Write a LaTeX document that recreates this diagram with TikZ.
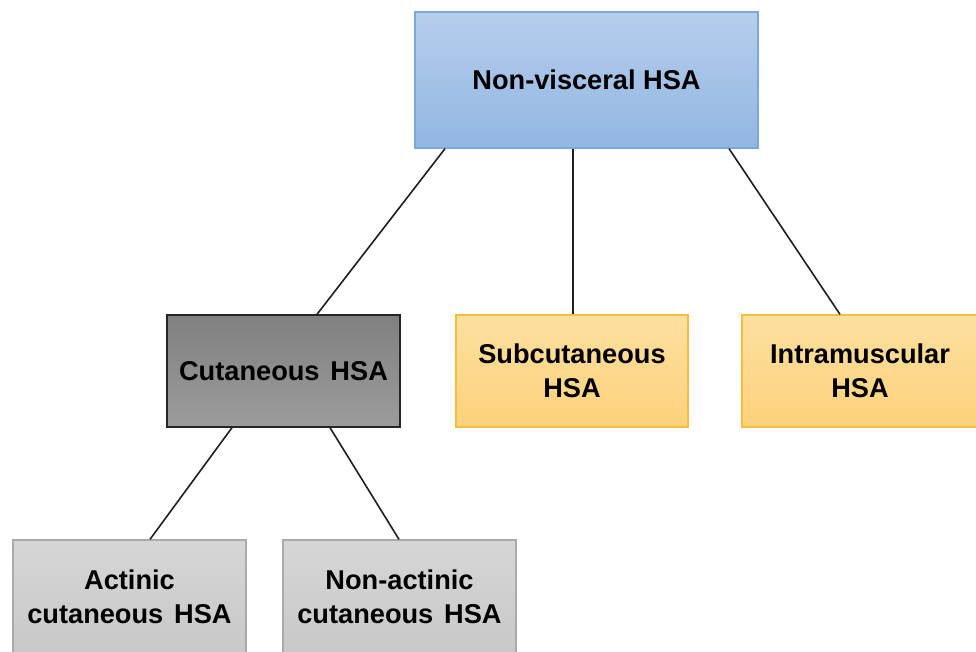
\documentclass[tikz,border=0pt]{standalone}
\usepackage{fontspec}
\setmainfont{Liberation Sans}
\begin{document}
\begin{tikzpicture}[x=1pt,y=1pt,
  box/.style={rectangle, line width=1.3pt, align=center, inner sep=0pt,
    font=\fontsize{27.2}{34}\selectfont\bfseries},
  bluebox/.style={box, draw={rgb,255:red,122;green,167;blue,220}, top color={rgb,255:red,182;green,206;blue,236}, bottom color={rgb,255:red,146;green,182;blue,226}},
  darkbox/.style={box, draw=black!85, top color={rgb,255:red,128;green,128;blue,128}, bottom color={rgb,255:red,156;green,156;blue,156}},
  orangebox/.style={box, draw={rgb,255:red,247;green,190;blue,60}, top color={rgb,255:red,253;green,224;blue,160}, bottom color={rgb,255:red,253;green,209;blue,122}},
  graybox/.style={box, draw={rgb,255:red,170;green,170;blue,170}, top color={rgb,255:red,214;green,214;blue,214}, bottom color={rgb,255:red,200;green,200;blue,200}},
  link/.style={line width=1.6pt, draw={rgb,255:red,30;green,30;blue,30}}]
\useasboundingbox (0,0) rectangle (976,-651);
\clip (0,0) rectangle (976,-651);
\node[bluebox, minimum width=343, minimum height=136] (top) at (586.5,-80) {Non-visceral HSA};
\node[darkbox, minimum width=233, minimum height=112] (cut) at (283.5,-371) {Cutaneous\hspace{0.4em}HSA};
\node[orangebox, minimum width=232, minimum height=112] (sub) at (572,-371) {Subcutaneous\\HSA};
\node[orangebox, minimum width=236, minimum height=112] (intra) at (860,-371) {Intramuscular\\HSA};
\node[graybox, minimum width=233, minimum height=114] (act) at (129.5,-597) {Actinic\\cutaneous\hspace{0.4em}HSA};
\node[graybox, minimum width=233, minimum height=114] (nonact) at (399.5,-597) {Non-actinic\\cutaneous\hspace{0.4em}HSA};
\draw[link] ([xshift=-141.5]top.south) -- ([xshift=33.5]cut.north);
\draw[link] ([xshift=-13.5]top.south) -- ([xshift=1]sub.north);
\draw[link] ([xshift=142.5]top.south) -- ([xshift=-20]intra.north);
\draw[link] ([xshift=-51.5]cut.south) -- ([xshift=20.5]act.north);
\draw[link] ([xshift=46.5]cut.south) -- ([xshift=-0.5]nonact.north);
\end{tikzpicture}
\end{document}
